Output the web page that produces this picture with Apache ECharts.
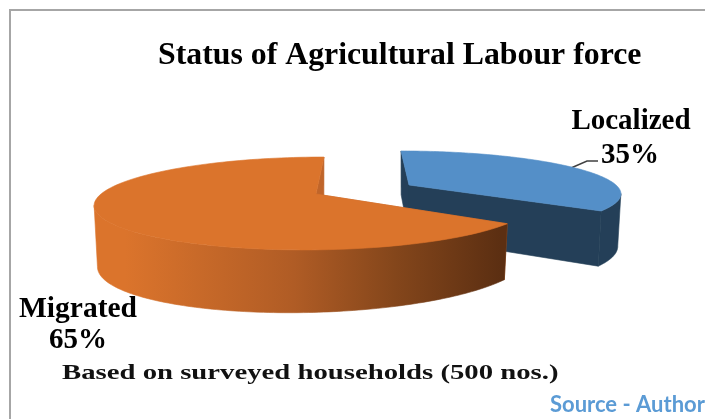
<!DOCTYPE html>
<html>
<head>
<meta charset="utf-8">
<style>html,body{margin:0;padding:0;background:#fff;overflow:hidden}#chart{width:705px;height:419px}</style>
<script src="https://cdn.jsdelivr.net/npm/echarts@6/dist/echarts.min.js"></script>
</head>
<body>
<div id="chart"></div>
<script>
// Survey shares, in percent of households
const categories = ['Localized', 'Migrated'];
const shares = [35, 65];

const chartTitle = 'Status of Agricultural Labour force';
const note = 'Based on surveyed households (500 nos.)';
const source = 'Source - Author';

// View of each slice of the tilted disc: apex on screen, radii, perspective, thickness
const views = {
  Localized: { ax: 409, ay: 185, rx: 207, ry: 39.8, k: 0.17, shear: 0.235, depth: 51, dv: 0.14, du: 0, shrink: 0.985,
    top: '#548FC8', side: '#243F58', inner: '#243F58' },
  Migrated: { ax: 316, ay: 194, rx: 215, ry: 44.5, k: 0.204, shear: -0.216, depth: 55, dv: 0.14, du: -0.08, shrink: 0.985,
    top: '#DB742C', inner: '#C0652A',
    side: new echarts.graphic.LinearGradient(125, 0, 500, 0, [
      { offset: 0, color: '#DB742C' },
      { offset: 0.45, color: '#B05C25' },
      { offset: 0.72, color: '#84461B' },
      { offset: 1, color: '#5C2F12' }
    ], true) }
};

// Angle is measured clockwise from the top of the disc
function onTop(view, r, angle) {
  const u = r * Math.sin(angle), v = -r * Math.cos(angle);
  const w = 1 / (1 - view.k * v);
  const dy = view.ry * v * w;
  return [view.ax + view.rx * u * w + view.shear * dy, view.ay + dy];
}
function onBottom(view, r, angle) {
  const p = onTop(view, r, angle);
  const u = r * Math.sin(angle), v = -r * Math.cos(angle);
  const d = view.depth * (1 + view.dv * v + view.du * u);
  return [view.ax + (p[0] - view.ax) * view.shrink, p[1] + d];
}
function arc(fn, view, a0, a1) {
  const pts = [], n = 120;
  for (let i = 0; i <= n; i++) pts.push(fn(view, 1, a0 + (a1 - a0) * i / n));
  return pts;
}
// Angles of the rim's right and left silhouette points; the wall shows between them
function silhouette(view) {
  let right = 0, left = 0, maxX = -Infinity, minX = Infinity;
  for (let d = 0; d < 360; d++) {
    const a = d * Math.PI / 180, x = onTop(view, 1, a)[0];
    if (x > maxX) { maxX = x; right = a; }
    if (x < minX) { minX = x; left = a; }
  }
  return [right, left];
}

function renderSlice(params, api) {
  const i = params.dataIndex;
  const total = shares.reduce((s, x) => s + x, 0);
  const before = shares.slice(0, i).reduce((s, x) => s + x, 0);
  const a0 = before / total * Math.PI * 2;
  const a1 = (before + api.value(0)) / total * Math.PI * 2;
  const view = views[categories[i]];
  const apexTop = onTop(view, 0, 0), apexBottom = onBottom(view, 0, 0);
  const topArc = arc(onTop, view, a0, a1);
  const edge0 = [topArc[0], onBottom(view, 1, a0)];
  const edge1 = [topArc[topArc.length - 1], onBottom(view, 1, a1)];
  const [right, left] = silhouette(view);
  const w0 = Math.max(a0, right), w1 = Math.min(a1, left);
  const wallTop = arc(onTop, view, w0, w1), wallBottom = arc(onBottom, view, w0, w1);
  // A hairline in the fill colour closes the seams between neighbouring faces
  const poly = (points, fill) => ({
    type: 'polygon', shape: { points }, style: { fill, stroke: fill, lineWidth: 0.6 }
  });
  const children = [
    poly([apexTop, edge0[0], edge0[1], apexBottom], view.inner),
    poly([apexTop, edge1[0], edge1[1], apexBottom], view.inner),
    poly(wallTop.concat(wallBottom.slice().reverse()), view.side),
    poly([apexTop].concat(topArc), view.top)
  ];
  return { type: 'group', children };
}

const serif = '"Liberation Serif", serif';
const chart = echarts.init(document.getElementById('chart'), null, { renderer: 'canvas' });
chart.setOption({
  animation: false,
  backgroundColor: '#fff',
  title: {
    text: chartTitle, left: 153, top: 35,
    textStyle: { fontFamily: serif, fontSize: 31.8, fontWeight: 'bold', color: '#000' }
  },
  series: [{
    type: 'custom',
    coordinateSystem: 'none',
    renderItem: renderSlice,
    data: shares.map((s, i) => ({ name: categories[i], value: [s] }))
  }],
  graphic: [
    { type: 'polyline', silent: true, shape: { points: [[10, 419], [10, 10], [705, 10]] },
      style: { stroke: '#A6A6A6', lineWidth: 2, fill: null } },
    { type: 'polyline', silent: true, shape: { points: [[571, 168], [587, 161], [598, 161]] },
      style: { stroke: '#404040', lineWidth: 1.5, fill: null } },
    { type: 'text', silent: true, x: 631, y: 122, style: { text: categories[0], font: 'bold 29px ' + serif, fill: '#000', align: 'center', verticalAlign: 'middle' } },
    { type: 'text', silent: true, x: 630, y: 156, style: { text: shares[0] + '%', font: 'bold 29px ' + serif, fill: '#000', align: 'center', verticalAlign: 'middle' } },
    { type: 'text', silent: true, x: 78, y: 309, style: { text: categories[1], font: 'bold 29.5px ' + serif, fill: '#000', align: 'center', verticalAlign: 'middle' } },
    { type: 'text', silent: true, x: 78, y: 341, style: { text: shares[1] + '%', font: 'bold 29px ' + serif, fill: '#000', align: 'center', verticalAlign: 'middle' } },
    { type: 'text', silent: true, x: 62, y: 373, scaleX: 1.306, style: { text: note, font: 'bold 22px ' + serif, fill: '#111', align: 'left', verticalAlign: 'middle' } },
    { type: 'text', silent: true, x: 550, y: 405, style: { text: source, font: 'bold 22px Lato, sans-serif', fill: '#5B9BD5', align: 'left', verticalAlign: 'middle' } }
  ]
});
</script>
</body>
</html>
